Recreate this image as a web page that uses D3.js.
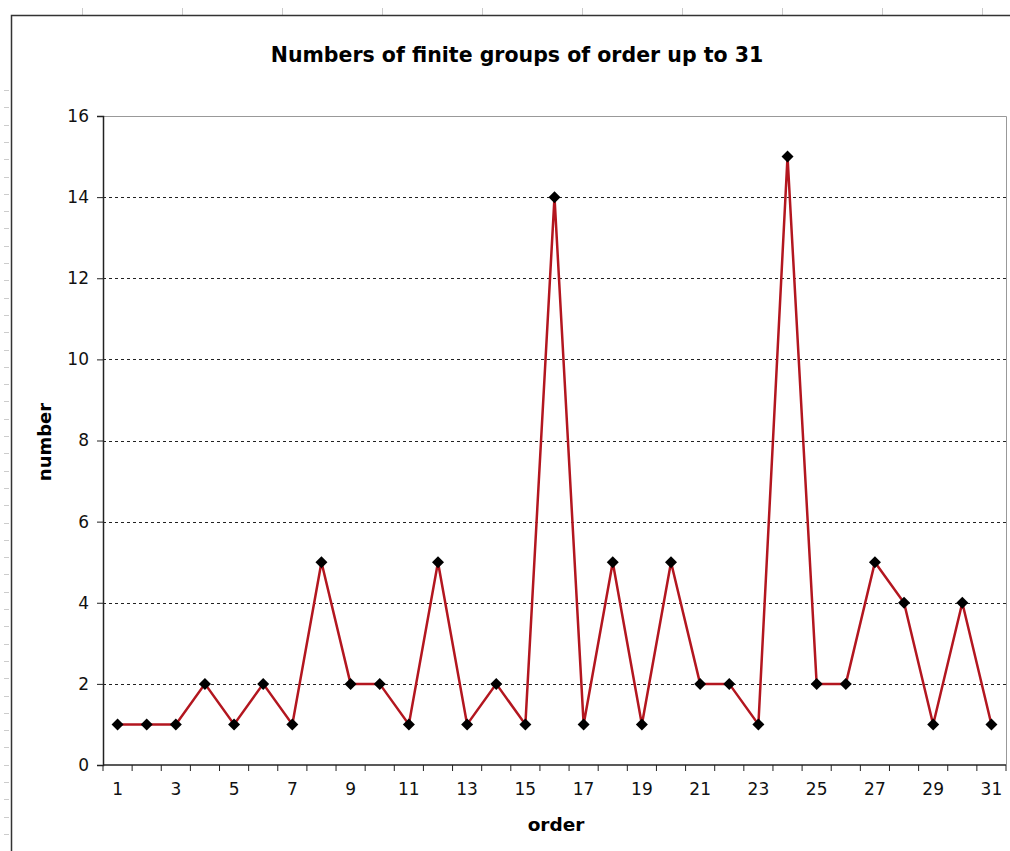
<!DOCTYPE html>
<html lang="en">
<head>
    <meta charset="UTF-8">
    <title>Numbers of finite groups of order up to 31</title>
    <script src="https://d3js.org/d3.v7.min.js"></script>
    <style>
        body { margin: 0; background: #fff; }
        svg { display: block; }
    </style>
</head>
<body>
    <div id="chart-container"></div>

    <script>
        // data: number of groups for each order 1..31
        const orders = d3.range(1, 32);
        const groupCounts = [1, 1, 1, 2, 1, 2, 1, 5, 2, 2, 1, 5, 1, 2, 1, 14,
                             1, 5, 1, 5, 2, 2, 1, 15, 2, 2, 5, 4, 1, 4, 1];
        const yTicks = [0, 2, 4, 6, 8, 10, 12, 14, 16];
        const xTickLabels = orders.filter(d => d % 2 === 1);

        const width = 1010;
        const height = 851;
        const plot = {left: 103, right: 1006, top: 116, bottom: 765};

        const svg = d3.select("#chart-container")
            .append("svg")
            .attr("width", width)
            .attr("height", height)
            .style("font-family", "'DejaVu Sans', Verdana, sans-serif");

        // spreadsheet ruler marks around the chart
        const ruler = svg.append("g").attr("stroke", "#ccc").attr("stroke-width", 1);
        ruler.selectAll("line.top")
            .data(d3.range(82, width, 100))
            .enter().append("line")
            .attr("x1", d => d + 0.5).attr("x2", d => d + 0.5)
            .attr("y1", 8).attr("y2", 16);
        ruler.selectAll("line.left")
            .data(d3.range(90, height, 17.3))
            .enter().append("line")
            .attr("x1", 4).attr("x2", 9)
            .attr("y1", d => Math.round(d) + 0.5).attr("y2", d => Math.round(d) + 0.5);

        // chart frame
        svg.append("path")
            .attr("d", `M11.5,${height} V15.5 H${width}`)
            .attr("fill", "none")
            .attr("stroke", "#333")
            .attr("stroke-width", 1.5);

        // scales
        const xScale = d3.scaleBand()
            .domain(orders)
            .range([plot.left, plot.right]);
        const yScale = d3.scaleLinear()
            .domain([0, 16])
            .range([plot.bottom, plot.top]);

        // plot area border (grey top/right)
        svg.append("path")
            .attr("d", `M${plot.left},${plot.top + 0.5} H${plot.right + 0.5} V${plot.bottom}`)
            .attr("fill", "none")
            .attr("stroke", "#999")
            .attr("stroke-width", 1);

        // dashed gridlines
        svg.append("g")
            .selectAll("line")
            .data(yTicks.filter(d => d > 0 && d < 16))
            .enter().append("line")
            .attr("x1", plot.left)
            .attr("x2", plot.right)
            .attr("y1", d => Math.round(yScale(d)) + 0.5)
            .attr("y2", d => Math.round(yScale(d)) + 0.5)
            .attr("stroke", "#222")
            .attr("stroke-width", 1)
            .attr("stroke-dasharray", "3,3");

        // y axis
        const yAxis = d3.axisLeft(yScale)
            .tickValues(yTicks)
            .tickSize(6)
            .tickPadding(8);
        const gy = svg.append("g")
            .attr("transform", `translate(${plot.left}, 0)`)
            .call(yAxis);
        gy.select(".domain").attr("stroke", "#222").attr("stroke-width", 1.5);
        gy.selectAll(".tick line").attr("stroke", "#222");
        gy.selectAll(".tick text")
            .attr("font-size", "17px")
            .attr("font-family", "'DejaVu Sans', Verdana, sans-serif")
            .attr("fill", "#111");

        // x axis: ticks on band boundaries, labels on odd orders
        const gx = svg.append("g")
            .attr("transform", `translate(0, ${plot.bottom})`);
        gx.append("line")
            .attr("x1", plot.left).attr("x2", plot.right)
            .attr("stroke", "#222").attr("stroke-width", 1.5);
        gx.selectAll("line.tick")
            .data(orders.concat([32]))
            .enter().append("line")
            .attr("class", "tick")
            .attr("x1", d => d <= 31 ? xScale(d) : plot.right)
            .attr("x2", d => d <= 31 ? xScale(d) : plot.right)
            .attr("y1", 0).attr("y2", 6)
            .attr("stroke", "#222");
        gx.selectAll("text")
            .data(xTickLabels)
            .enter().append("text")
            .attr("x", d => xScale(d) + xScale.bandwidth() / 2)
            .attr("y", 30)
            .attr("text-anchor", "middle")
            .attr("font-size", "17px")
            .attr("fill", "#111")
            .text(d => d);

        // line
        const line = d3.line()
            .x((d, i) => xScale(orders[i]) + xScale.bandwidth() / 2)
            .y(d => yScale(d));
        svg.append("path")
            .datum(groupCounts)
            .attr("d", line)
            .attr("fill", "none")
            .attr("stroke", "#b3161f")
            .attr("stroke-width", 2.5);

        // diamond markers
        svg.selectAll("path.marker")
            .data(groupCounts)
            .enter().append("path")
            .attr("class", "marker")
            .attr("d", "M0,-6 L6,0 L0,6 L-6,0 Z")
            .attr("transform", (d, i) => `translate(${xScale(orders[i]) + xScale.bandwidth() / 2}, ${yScale(d)})`)
            .attr("fill", "#000");

        // title
        svg.append("text")
            .attr("x", 517)
            .attr("y", 62)
            .attr("text-anchor", "middle")
            .attr("font-size", "20.5px")
            .attr("font-weight", "bold")
            .text("Numbers of finite groups of order up to 31");

        // axis titles
        svg.append("text")
            .attr("x", 556)
            .attr("y", 831)
            .attr("text-anchor", "middle")
            .attr("font-size", "18.5px")
            .attr("font-weight", "bold")
            .text("order");

        svg.append("text")
            .attr("transform", "translate(51, 442) rotate(-90)")
            .attr("text-anchor", "middle")
            .attr("font-size", "18px")
            .attr("font-weight", "bold")
            .text("number");
    </script>
</body>
</html>
